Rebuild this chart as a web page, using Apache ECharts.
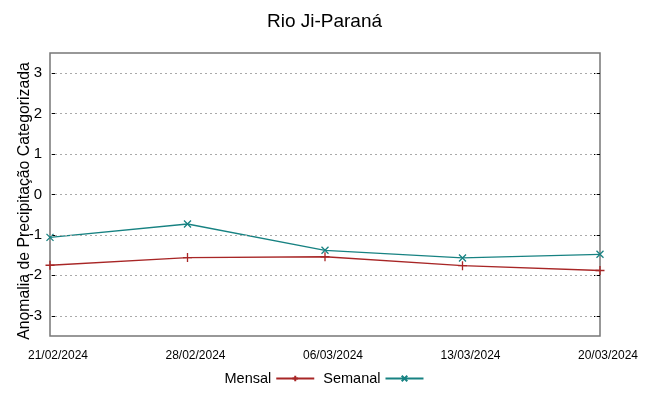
<!DOCTYPE html>
<html><head><meta charset="utf-8">
<script src="https://cdn.jsdelivr.net/npm/echarts@6/dist/echarts.min.js"></script>
<style>html,body{margin:0;padding:0;background:#fff}#c{width:649px;height:396px}</style>
</head><body><div id="c"></div>
<script>
const dates = ['21/02/2024','28/02/2024','06/03/2024','13/03/2024','20/03/2024'];
const mensal = [-1.75, -1.56, -1.54, -1.76, -1.88];
const semanal = [-1.06, -0.73, -1.38, -1.57, -1.48];
const yTicks = [-3,-2,-1,0,1,2,3];

const FONT = '"Liberation Sans", Arial, sans-serif';
const plus = 'path://M0,5L10,5M5,0L5,10';
const cross = 'path://M0,0L10,10M10,0L0,10';
const RED = '#a82626', TEAL = '#178282';
const chart = echarts.init(document.getElementById('c'));
chart.setOption({
  animation:false,
  title:{text:'Rio Ji-Paraná',left:'center',top:7,textStyle:{fontFamily:FONT,fontSize:19,fontWeight:'normal',color:'#000'}},
  grid:{left:50,right:49,top:53,bottom:60,show:true,borderColor:'#777',borderWidth:1.5,
    containLabel:false,outerBoundsMode:'none'},
  legend:{bottom:5,left:'center',align:'right',itemWidth:38,itemHeight:7,itemGap:8,
    textStyle:{fontFamily:FONT,fontSize:14.5,color:'#000'},
    data:['Mensal','Semanal']},
  xAxis:{type:'category',data:dates,boundaryGap:false,
    axisLine:{show:false},axisTick:{show:false},splitLine:{show:false},
    axisLabel:{fontFamily:FONT,fontSize:12,color:'#000',margin:14,interval:0,padding:[0,0,0,16]}},
  yAxis:[{type:'value',min:-3.5,max:3.5,interval:0.5,
    name:'Anomalia de Precipitação Categorizada',nameLocation:'middle',nameGap:17,
    nameMoveOverlap:false,
    nameTextStyle:{fontFamily:FONT,fontSize:15.8,color:'#000',padding:[0,13,0,0]},
    axisLine:{show:false},
    axisTick:{show:true,inside:true,length:6,lineStyle:{color:'#000'},customValues:yTicks},
    axisLabel:{fontFamily:FONT,fontSize:15,color:'#000',margin:8,customValues:yTicks},
    splitLine:{show:false}},
   {type:'value',min:-3.5,max:3.5,interval:0.5,position:'right',
    axisLine:{show:false},axisLabel:{show:false},splitLine:{show:false},
    axisTick:{show:true,inside:true,length:6,lineStyle:{color:'#000'},customValues:yTicks}}],
  series:[
    {name:'Mensal',type:'line',data:mensal,symbol:plus,symbolSize:9,
     lineStyle:{color:RED,width:1.3},itemStyle:{color:'none',borderColor:RED,borderWidth:1.3},
     markLine:{silent:true,symbol:'none',label:{show:false},
       lineStyle:{color:'#aaa',type:[2,3],width:1},
       data:yTicks.map(v=>({yAxis:v}))}},
    {name:'Semanal',type:'line',data:semanal,symbol:cross,symbolSize:7,
     lineStyle:{color:TEAL,width:1.3},itemStyle:{color:'none',borderColor:TEAL,borderWidth:1.3}}
  ]
});
</script></body></html>
